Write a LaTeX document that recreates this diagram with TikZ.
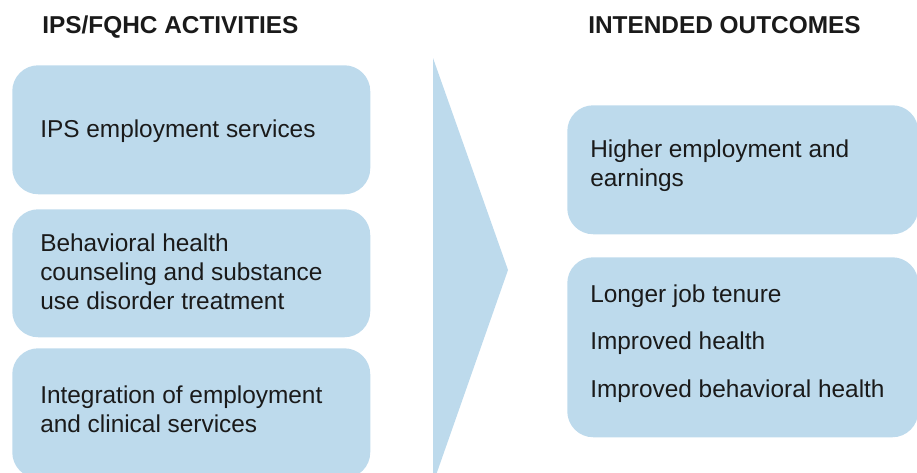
\documentclass[tikz,border=0pt]{standalone}
\usepackage{fontspec}
\setmainfont{Liberation Sans}
\definecolor{boxblue}{HTML}{BDDAEC}
\definecolor{ink}{HTML}{1A1A1A}
\begin{document}
\begin{tikzpicture}[x=0.75pt,y=-0.75pt,
  box/.style={fill=boxblue, rounded corners=19.5pt, inner sep=0pt, anchor=north west},
  txt/.style={anchor=base west, inner sep=0pt, text=ink, font=\fontsize{18.3}{22}\selectfont},
  head/.style={txt, font=\fontsize{18.3}{22}\selectfont\bfseries}]
\useasboundingbox (0,0) rectangle (917,472);
\clip (0,0) rectangle (917,472);
% left boxes
\node[box, minimum width=358*0.75pt, minimum height=129*0.75pt] (b1) at (12,65) {};
\node[box, minimum width=358*0.75pt, minimum height=128*0.75pt] (b2) at (12,209) {};
\node[box, minimum width=358*0.75pt, minimum height=130*0.75pt] (b3) at (12,348) {};
% right boxes
\node[box, minimum width=351*0.75pt, minimum height=129*0.75pt] (r1) at (567,105) {};
\node[box, minimum width=351*0.75pt, minimum height=180*0.75pt] (r2) at (567,257) {};
% chevron
\fill[boxblue] (433,58) -- (508,270) -- (435,478) -- (433,478) -- cycle;
% headings
\node[head] (h1) at (42,33) {IPS/FQHC ACTIVITIES};
\node[head] (h2) at (588,33) {INTENDED OUTCOMES};
% texts
\node[txt] (t1) at (40,137) {IPS employment services};
\node[txt] (t2a) at (40,251) {Behavioral health};
\node[txt] (t2b) at (40,280) {counseling and substance};
\node[txt] (t2c) at (40,309) {use disorder treatment};
\node[txt] (t3a) at (40,403) {Integration of employment};
\node[txt] (t3b) at (40,432) {and clinical services};
\node[txt] (u1a) at (590,157) {Higher employment and};
\node[txt] (u1b) at (590,186) {earnings};
\node[txt] (u2a) at (590,302) {Longer job tenure};
\node[txt] (u2b) at (590,349) {Improved health};
\node[txt] (u2c) at (590,397) {Improved behavioral health};
\end{tikzpicture}
\end{document}
